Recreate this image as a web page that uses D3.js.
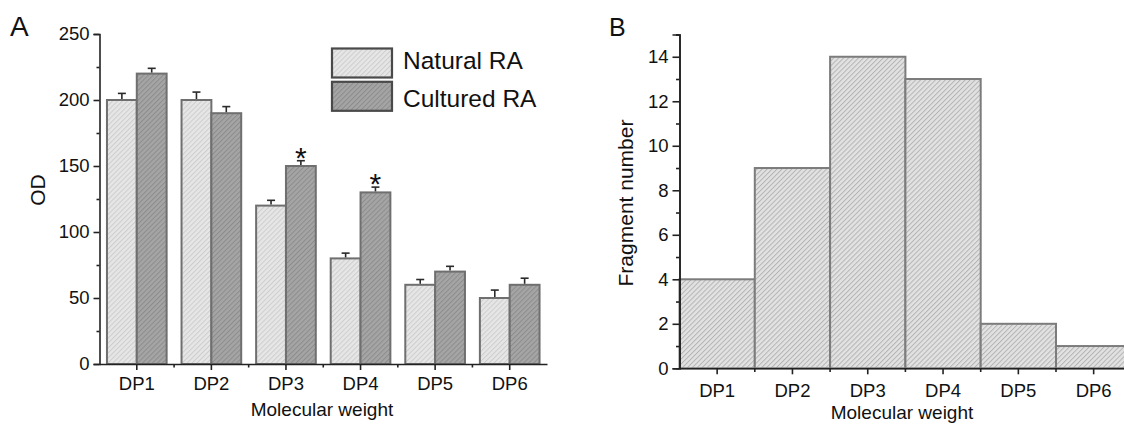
<!DOCTYPE html>
<html>
<head>
<meta charset="utf-8">
<script src="https://cdn.jsdelivr.net/npm/d3@7"></script>
<style>
  body { margin: 0; background: #fff; }
  svg { display: block; font-family: "Liberation Sans", Arial, sans-serif; }
</style>
</head>
<body>
<svg id="chart" width="1124" height="424"></svg>
<script>
// data
var categories = ["DP1", "DP2", "DP3", "DP4", "DP5", "DP6"];
var naturalRA = [200, 200, 120, 80, 60, 50];
var naturalErr = [5, 6, 4, 4, 4, 6];
var culturedRA = [220, 190, 150, 130, 70, 60];
var culturedErr = [4, 5, 4, 4, 4, 5];
var significant = [false, false, true, true, false, false];
var fragmentNumber = [4, 9, 14, 13, 2, 1];
var odTicks = [0, 50, 100, 150, 200, 250];
var fragTicks = [0, 2, 4, 6, 8, 10, 12, 14];

var svg = d3.select("#chart");

// hatch patterns
var defs = svg.append("defs");
function hatch(id, bg, line, size) {
    var p = defs.append("pattern")
        .attr("id", id)
        .attr("patternUnits", "userSpaceOnUse")
        .attr("width", size)
        .attr("height", size)
        .attr("patternTransform", "rotate(45)");
    p.append("rect").attr("width", size).attr("height", size).attr("fill", bg);
    p.append("line")
        .attr("x1", 0.5).attr("y1", 0).attr("x2", 0.5).attr("y2", size)
        .attr("stroke", line).attr("stroke-width", 1);
}
hatch("hatchNat", "#e6e6e6", "#cdcdcd", 3.5);
hatch("hatchCul", "#a5a5a5", "#8c8c8c", 3.5);
hatch("hatchFrag", "#e2e2e2", "#b4b4b4", 3.5);

function styleAxis(g, size) {
    g.selectAll(".domain").attr("stroke", "#222").attr("stroke-width", 1.6);
    g.selectAll(".tick line").attr("stroke", "#222").attr("stroke-width", 1.6);
    g.selectAll(".tick text").attr("fill", "#111").style("font-size", size + "px")
        .style("font-family", "'Liberation Sans', Arial, sans-serif");
}

// ---------- Panel A ----------
var xA = d3.scaleBand()
    .domain(categories)
    .range([99.5, 547])
    .paddingInner(0.2)
    .paddingOuter(0.1);
var xSub = d3.scaleBand()
    .domain(["natural", "cultured"])
    .range([0, xA.bandwidth()]);
var yA = d3.scaleLinear().domain([0, 250]).range([364, 34]);

var rowsA = categories.map(function(c, i) {
    return [
        { cat: c, key: "natural", value: naturalRA[i], err: naturalErr[i], sig: false },
        { cat: c, key: "cultured", value: culturedRA[i], err: culturedErr[i], sig: significant[i] }
    ];
});
var barsA = d3.merge(rowsA);

var gA = svg.append("g");

gA.selectAll("rect.bar")
    .data(barsA)
    .enter().append("rect")
    .attr("class", "bar")
    .attr("x", function(d) { return xA(d.cat) + xSub(d.key); })
    .attr("y", function(d) { return yA(d.value); })
    .attr("width", xSub.bandwidth())
    .attr("height", function(d) { return yA(0) - yA(d.value); })
    .attr("fill", function(d) { return d.key == "natural" ? "url(#hatchNat)" : "url(#hatchCul)"; })
    .attr("stroke", "#6f6f6f")
    .attr("stroke-width", 2);

// error bars (upper half only)
var errG = gA.selectAll("g.err")
    .data(barsA)
    .enter().append("g")
    .attr("class", "err")
    .attr("stroke", "#2a2a2a")
    .attr("stroke-width", 1.6);
errG.append("line")
    .attr("x1", function(d) { return xA(d.cat) + xSub(d.key) + xSub.bandwidth() / 2; })
    .attr("x2", function(d) { return xA(d.cat) + xSub(d.key) + xSub.bandwidth() / 2; })
    .attr("y1", function(d) { return yA(d.value) - 1; })
    .attr("y2", function(d) { return yA(d.value + d.err); });
errG.append("line")
    .attr("x1", function(d) { return xA(d.cat) + xSub(d.key) + xSub.bandwidth() / 2 - 4; })
    .attr("x2", function(d) { return xA(d.cat) + xSub(d.key) + xSub.bandwidth() / 2 + 4; })
    .attr("y1", function(d) { return yA(d.value + d.err); })
    .attr("y2", function(d) { return yA(d.value + d.err); });

// significance stars
gA.selectAll("text.star")
    .data(barsA.filter(function(d) { return d.sig; }))
    .enter().append("text")
    .attr("class", "star")
    .attr("x", function(d) { return xA(d.cat) + xSub(d.key) + xSub.bandwidth() / 2; })
    .attr("y", function(d) { return yA(d.value + d.err) + 7; })
    .attr("text-anchor", "middle")
    .style("font-size", "30px")
    .attr("fill", "#111")
    .text("*");

// axes
var yAxisA = gA.append("g")
    .attr("transform", "translate(99.5,0)")
    .call(d3.axisLeft(yA).tickValues(odTicks).tickSize(6).tickPadding(4));
styleAxis(yAxisA, 18.5);
var yMinorA = gA.append("g")
    .attr("transform", "translate(99.5,0)")
    .call(d3.axisLeft(yA).tickValues(odTicks.slice(0, -1).map(function(v) { return v + 25; }))
        .tickSize(3).tickFormat(""));
yMinorA.select(".domain").remove();
styleAxis(yMinorA, 18.5);

var xAxisA = gA.append("g")
    .attr("transform", "translate(0,364)")
    .call(d3.axisBottom(xA).tickSize(6).tickSizeOuter(0).tickPadding(7));
styleAxis(xAxisA, 18.5);
var boundsA = categories.slice(1).map(function(c) { return xA(c) - xA.step() * xA.paddingInner() / 2; });
gA.selectAll("line.minorx")
    .data(boundsA)
    .enter().append("line")
    .attr("x1", function(d) { return d; })
    .attr("x2", function(d) { return d; })
    .attr("y1", 364).attr("y2", 367.5)
    .attr("stroke", "#222").attr("stroke-width", 1.6);

gA.append("text")
    .attr("transform", "translate(37,190) rotate(-90)")
    .attr("text-anchor", "middle")
    .attr("dominant-baseline", "central")
    .style("font-size", "21px")
    .attr("fill", "#111")
    .text("OD");
gA.append("text")
    .attr("x", 322).attr("y", 416)
    .attr("text-anchor", "middle")
    .style("font-size", "19px")
    .attr("fill", "#111")
    .text("Molecular weight");
gA.append("text")
    .attr("x", 10).attr("y", 36)
    .style("font-size", "28px")
    .attr("fill", "#111")
    .text("A");

// legend
var legendKeys = [
    { label: "Natural RA", fill: "url(#hatchNat)" },
    { label: "Cultured RA", fill: "url(#hatchCul)" }
];
var legend = gA.selectAll("g.legend")
    .data(legendKeys)
    .enter().append("g")
    .attr("class", "legend");
legend.append("rect")
    .attr("x", 332)
    .attr("y", function(d, i) { return 48.5 + i * 33.3; })
    .attr("width", 60)
    .attr("height", 29)
    .attr("fill", function(d) { return d.fill; })
    .attr("stroke", "#4a4a4a")
    .attr("stroke-width", 2.2);
legend.append("text")
    .attr("x", 403)
    .attr("y", function(d, i) { return 69.3 + i * 38; })
    .style("font-size", "24.5px")
    .attr("fill", "#111")
    .text(function(d) { return d.label; });

// ---------- Panel B ----------
var xB = d3.scaleBand()
    .domain(categories)
    .range([679.5, 1131.3])
    .padding(0);
var yB = d3.scaleLinear().domain([0, 15]).range([368.3, 34.5]);

var gB = svg.append("g");

gB.selectAll("rect.frag")
    .data(fragmentNumber)
    .enter().append("rect")
    .attr("class", "frag")
    .attr("x", function(d, i) { return xB(categories[i]); })
    .attr("y", function(d) { return yB(d); })
    .attr("width", xB.bandwidth())
    .attr("height", function(d) { return yB(0) - yB(d); })
    .attr("fill", "url(#hatchFrag)")
    .attr("stroke", "#7c7c7c")
    .attr("stroke-width", 2);

var yAxisB = gB.append("g")
    .attr("transform", "translate(679.5,0)")
    .call(d3.axisLeft(yB).tickValues(fragTicks).tickSize(7).tickPadding(4));
styleAxis(yAxisB, 18.5);
var yMinorB = gB.append("g")
    .attr("transform", "translate(679.5,0)")
    .call(d3.axisLeft(yB).tickValues(fragTicks.map(function(v) { return v + 1; }))
        .tickSize(3.5).tickFormat(""));
styleAxis(yMinorB, 18.5);

var xAxisB = gB.append("g")
    .attr("transform", "translate(0,368.3)")
    .call(d3.axisBottom(xB).tickSize(6).tickSizeOuter(0).tickPadding(10));
styleAxis(xAxisB, 18.5);
gB.selectAll("line.minorx")
    .data(categories.slice(1))
    .enter().append("line")
    .attr("x1", function(d) { return xB(d); })
    .attr("x2", function(d) { return xB(d); })
    .attr("y1", 368.3).attr("y2", 372)
    .attr("stroke", "#222").attr("stroke-width", 1.6);

gB.append("text")
    .attr("transform", "translate(625,203) rotate(-90)")
    .attr("text-anchor", "middle")
    .attr("dominant-baseline", "central")
    .style("font-size", "21px")
    .attr("fill", "#111")
    .text("Fragment number");
gB.append("text")
    .attr("x", 902).attr("y", 419)
    .attr("text-anchor", "middle")
    .style("font-size", "19px")
    .attr("fill", "#111")
    .text("Molecular weight");
gB.append("text")
    .attr("x", 609).attr("y", 36)
    .style("font-size", "25px")
    .attr("fill", "#111")
    .text("B");
</script>
</body>
</html>
